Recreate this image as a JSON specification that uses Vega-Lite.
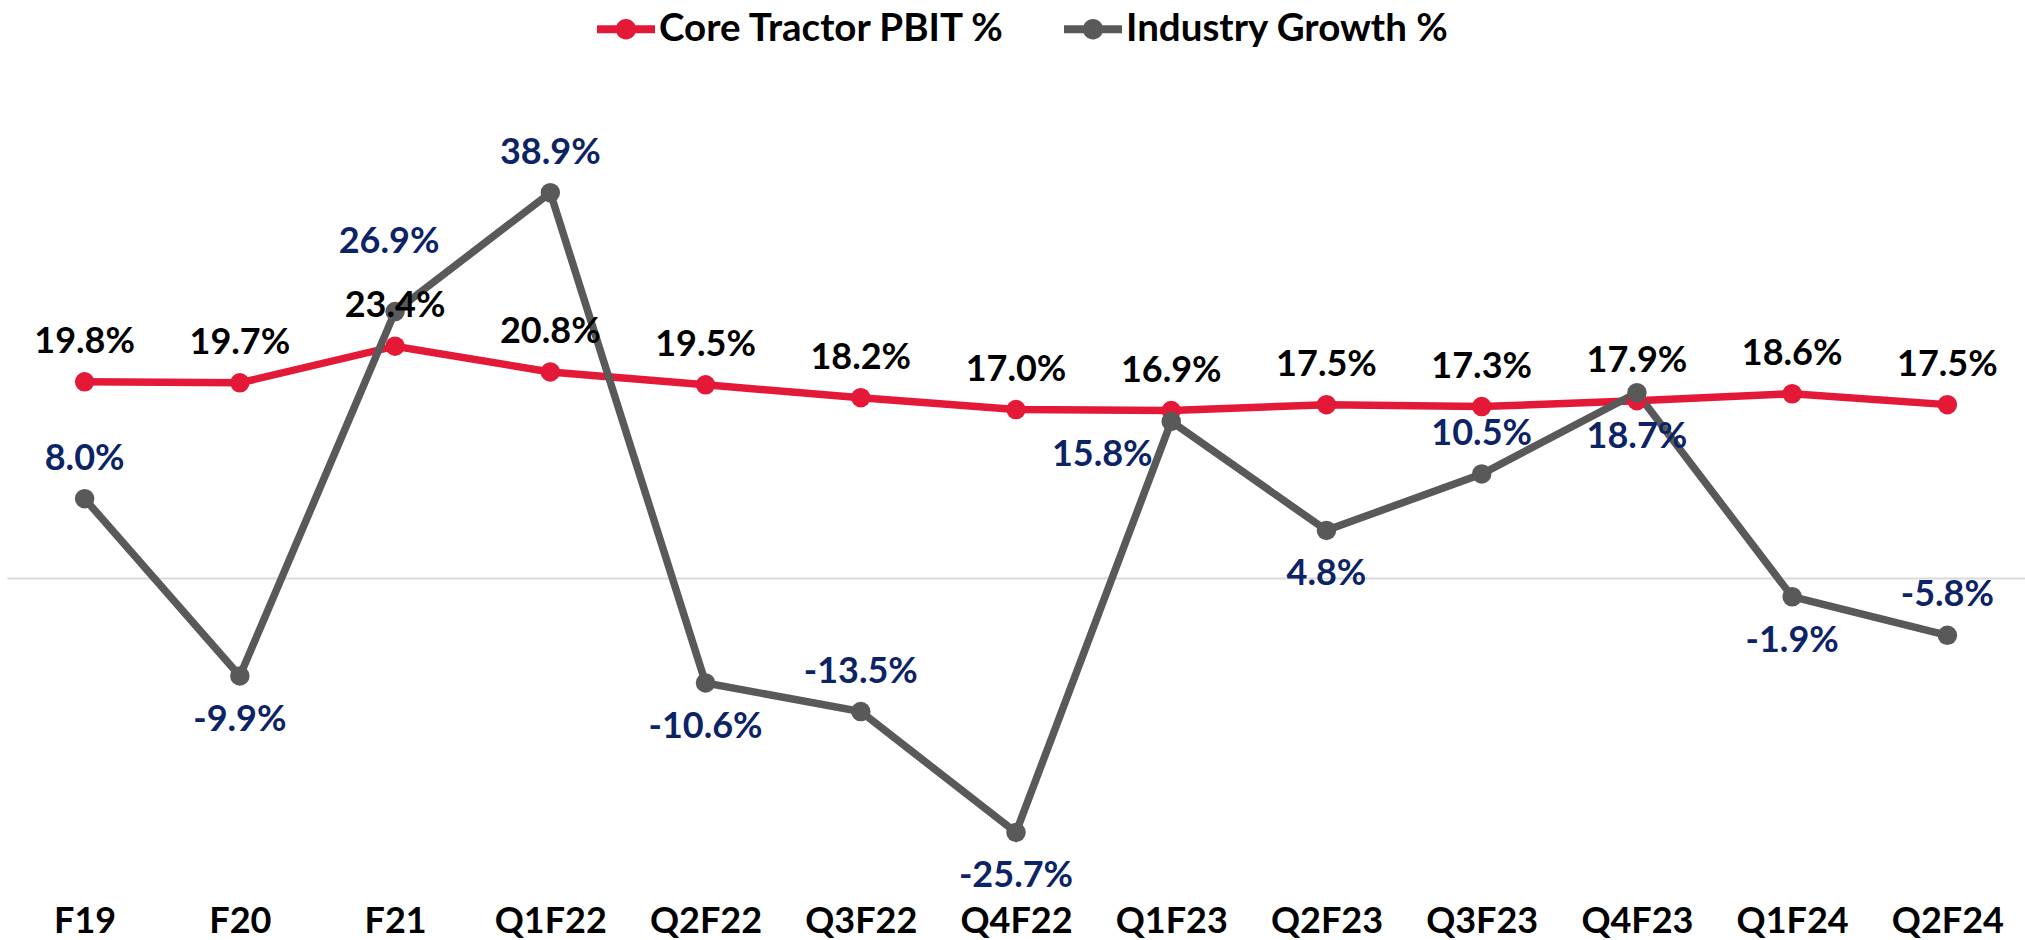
{
  "$schema": "https://vega.github.io/schema/vega-lite/v6.json",
  "width": 2018,
  "height": 812,
  "autosize": "none",
  "padding": {"left": 7, "top": 63, "right": 0, "bottom": 65},
  "config": {
    "view": {"stroke": null},
    "font": "Lato",
    "locale": {"number": {"decimal": ".", "thousands": ",", "grouping": [3], "currency": ["$", ""], "minus": "-"}},
    "legend": {
      "orient": "none",
      "legendX": 590,
      "legendY": -63,
      "direction": "horizontal",
      "symbolType": "M-1,-0.14L1,-0.14L1,0.14L-1,0.14Z M0.35,0A0.35,0.35,0,1,1,-0.35,0A0.35,0.35,0,1,1,0.35,0Z",
      "symbolSize": 3364,
      "symbolStrokeWidth": 0,
      "symbolOpacity": 1,
      "labelFont": "Lato",
      "labelFontWeight": "bold",
      "labelFontSize": 38.5,
      "labelColor": "#000000",
      "labelOffset": 4,
      "labelLimit": 0,
      "columnPadding": 58
    }
  },
  "data": {
    "values": [
      {"period": "F19", "series": "Core Tractor PBIT %", "value": 0.198},
      {"period": "F20", "series": "Core Tractor PBIT %", "value": 0.197},
      {"period": "F21", "series": "Core Tractor PBIT %", "value": 0.234},
      {"period": "Q1F22", "series": "Core Tractor PBIT %", "value": 0.208},
      {"period": "Q2F22", "series": "Core Tractor PBIT %", "value": 0.195},
      {"period": "Q3F22", "series": "Core Tractor PBIT %", "value": 0.182},
      {"period": "Q4F22", "series": "Core Tractor PBIT %", "value": 0.170},
      {"period": "Q1F23", "series": "Core Tractor PBIT %", "value": 0.169},
      {"period": "Q2F23", "series": "Core Tractor PBIT %", "value": 0.175},
      {"period": "Q3F23", "series": "Core Tractor PBIT %", "value": 0.173},
      {"period": "Q4F23", "series": "Core Tractor PBIT %", "value": 0.179},
      {"period": "Q1F24", "series": "Core Tractor PBIT %", "value": 0.186},
      {"period": "Q2F24", "series": "Core Tractor PBIT %", "value": 0.175},
      {"period": "F19", "series": "Industry Growth %", "value": 0.080},
      {"period": "F20", "series": "Industry Growth %", "value": -0.099},
      {"period": "F21", "series": "Industry Growth %", "value": 0.269},
      {"period": "Q1F22", "series": "Industry Growth %", "value": 0.389},
      {"period": "Q2F22", "series": "Industry Growth %", "value": -0.106},
      {"period": "Q3F22", "series": "Industry Growth %", "value": -0.135},
      {"period": "Q4F22", "series": "Industry Growth %", "value": -0.257},
      {"period": "Q1F23", "series": "Industry Growth %", "value": 0.158},
      {"period": "Q2F23", "series": "Industry Growth %", "value": 0.048},
      {"period": "Q3F23", "series": "Industry Growth %", "value": 0.105},
      {"period": "Q4F23", "series": "Industry Growth %", "value": 0.187},
      {"period": "Q1F24", "series": "Industry Growth %", "value": -0.019},
      {"period": "Q2F24", "series": "Industry Growth %", "value": -0.058}
    ]
  },
  "encoding": {
    "x": {
      "field": "period",
      "type": "ordinal",
      "sort": ["F19", "F20", "F21", "Q1F22", "Q2F22", "Q3F22", "Q4F22", "Q1F23", "Q2F23", "Q3F23", "Q4F23", "Q1F24", "Q2F24"],
      "scale": {"type": "point", "padding": 0.5},
      "axis": {
        "title": null,
        "domain": false,
        "ticks": false,
        "grid": false,
        "labelAngle": 0,
        "labelFont": "Lato",
        "labelFontWeight": "bold",
        "labelFontSize": 36,
        "labelColor": "#000000",
        "labelBaseline": "middle",
        "labelPadding": 46
      }
    },
    "y": {
      "field": "value",
      "type": "quantitative",
      "scale": {"domain": [-0.30, 0.52], "nice": false, "zero": false},
      "axis": {
        "title": null,
        "values": [0],
        "grid": true,
        "gridColor": "#D9D9D9",
        "gridWidth": 2,
        "domain": false,
        "ticks": false,
        "labels": false
      }
    },
    "color": {
      "field": "series",
      "type": "nominal",
      "scale": {"domain": ["Core Tractor PBIT %", "Industry Growth %"], "range": ["#E31937", "#595959"]},
      "legend": {"title": null}
    }
  },
  "layer": [
    {
      "mark": {"type": "line", "strokeWidth": 7.5}
    },
    {
      "mark": {"type": "point", "filled": true, "size": 380, "opacity": 1}
    },
    {
      "transform": [{"filter": "datum.series === 'Core Tractor PBIT %'"}],
      "mark": {"type": "text", "dy": -40, "font": "Lato", "fontWeight": "bold", "fontSize": 36, "baseline": "middle", "align": "center"},
      "encoding": {"text": {"field": "value", "type": "quantitative", "format": ".1%"}, "color": {"value": "#000000"}}
    },
    {
      "transform": [{"filter": {"and": [{"field": "series", "equal": "Industry Growth %"}, {"field": "period", "oneOf": ["F19", "Q1F22", "Q3F22", "Q3F23", "Q2F24"]}]}}],
      "mark": {"type": "text", "dy": -40, "font": "Lato", "fontWeight": "bold", "fontSize": 36, "baseline": "middle", "align": "center"},
      "encoding": {"text": {"field": "value", "type": "quantitative", "format": ".1%"}, "color": {"value": "#0C2366"}}
    },
    {
      "transform": [{"filter": {"and": [{"field": "series", "equal": "Industry Growth %"}, {"field": "period", "oneOf": ["F20", "Q2F22", "Q4F22", "Q2F23", "Q4F23", "Q1F24"]}]}}],
      "mark": {"type": "text", "dy": 44, "font": "Lato", "fontWeight": "bold", "fontSize": 36, "baseline": "middle", "align": "center"},
      "encoding": {"text": {"field": "value", "type": "quantitative", "format": ".1%"}, "color": {"value": "#0C2366"}}
    },
    {
      "transform": [{"filter": {"and": [{"field": "series", "equal": "Industry Growth %"}, {"field": "period", "equal": "F21"}]}}],
      "mark": {"type": "text", "dy": -70, "dx": -6, "font": "Lato", "fontWeight": "bold", "fontSize": 36, "baseline": "middle", "align": "center"},
      "encoding": {"text": {"field": "value", "type": "quantitative", "format": ".1%"}, "color": {"value": "#0C2366"}}
    },
    {
      "transform": [{"filter": {"and": [{"field": "series", "equal": "Industry Growth %"}, {"field": "period", "equal": "Q1F23"}]}}],
      "mark": {"type": "text", "dy": 34, "dx": -69, "font": "Lato", "fontWeight": "bold", "fontSize": 36, "baseline": "middle", "align": "center"},
      "encoding": {"text": {"field": "value", "type": "quantitative", "format": ".1%"}, "color": {"value": "#0C2366"}}
    }
  ]
}
